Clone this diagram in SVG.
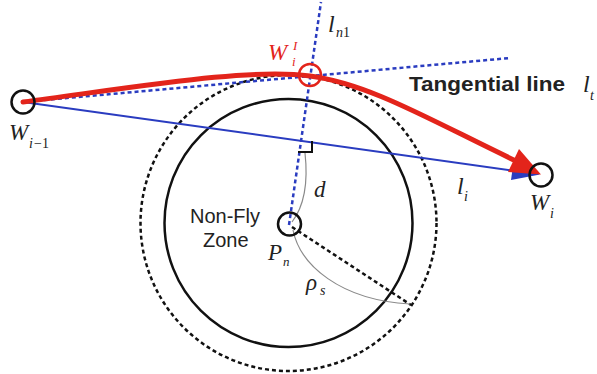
<svg xmlns="http://www.w3.org/2000/svg" width="597" height="374" viewBox="0 0 597 374">
<style>
.bg{fill:#ffffff}
.wp{fill:none;stroke:#111;stroke-width:2.5}
.zone{fill:none;stroke:#111;stroke-width:2.5}
.safe{fill:none;stroke:#111;stroke-width:2.5;stroke-dasharray:4 3}
.bdot{fill:none;stroke:#2a3cc0;stroke-width:2.5;stroke-dasharray:4 3}
.bline{fill:none;stroke:#2a3cc0;stroke-width:2}
.gray{fill:none;stroke:#8a8a8a;stroke-width:1.2}
.kdash{fill:none;stroke:#111;stroke-width:2.5;stroke-dasharray:4 3}
.red{fill:none;stroke:#e3241b;stroke-width:5;stroke-linecap:round}
.math{font-family:"Liberation Serif","Times New Roman",serif;font-style:italic;fill:#222}
.up{font-family:"Liberation Serif","Times New Roman",serif;font-style:normal;fill:#222}
.sans{font-family:"Liberation Sans",Arial,sans-serif;fill:#222}
.rd{fill:#e3241b}
</style>
<rect class="bg" x="0" y="0" width="597" height="374"/>

<g id="zone">
  <circle class="safe" cx="288.5" cy="223" r="148"/>
  <circle class="zone" cx="288.5" cy="223" r="124"/>
  <text class="sans" x="190" y="223" font-size="20">Non-Fly</text>
  <text class="sans" x="203" y="247" font-size="20">Zone</text>
</g>

<g id="connectors">
  <line class="bdot" x1="23" y1="102" x2="510" y2="58"/>
  <line class="bdot" x1="289" y1="225" x2="321" y2="2"/>
  <line class="bline" x1="23" y1="102" x2="516" y2="171"/>
  <polygon points="540,174.5 513,166 511,180" fill="#2a3cc0"/>
  <path class="kdash" d="M292 227 L411 305"/>
  <path class="gray" d="M305 153 C308 180 305 205 292 222"/>
  <path class="gray" d="M293 230 C300 265 340 300 410 304"/>
  <path fill="none" stroke="#111" stroke-width="2" d="M298 152 L312 152 L312 141"/>
  <path class="red" d="M23 102 C150 85 250 68 310 76 S430 120 516 161"/>
  <polygon points="541,174.5 519,149 508,172" fill="#e3241b"/>
</g>

<g id="wprev">
  <circle class="wp" cx="23" cy="102" r="11.5"/>
  <text class="math" x="9" y="140" font-size="23">W</text>
  <text class="math" x="29" y="148" font-size="14">i</text>
  <text class="up" x="34" y="148" font-size="14">−1</text>
</g>

<g id="wi">
  <circle class="wp" cx="541" cy="175" r="11.5"/>
  <text class="math" x="530" y="210" font-size="23">W</text>
  <text class="math" x="550" y="218" font-size="14">i</text>
</g>

<g id="wiI">
  <circle fill="none" stroke="#e3241b" stroke-width="2.5" cx="310" cy="75" r="11"/>
  <text class="math rd" x="268" y="60" font-size="23">W</text>
  <text class="math rd" x="293" y="50" font-size="13">I</text>
  <text class="math rd" x="292" y="66" font-size="13">i</text>
</g>

<g id="pn">
  <circle class="wp" cx="289.5" cy="224" r="11.5"/>
  <text class="math" x="268" y="260" font-size="23">P</text>
  <text class="math" x="283" y="266" font-size="13">n</text>
</g>

<g id="labels">
  <text class="math" x="328" y="32" font-size="24">l</text>
  <text class="math" x="336" y="37" font-size="14">n</text>
  <text class="up" x="343" y="37" font-size="14">1</text>
  <text class="sans" x="409" y="91" font-size="21" font-weight="bold" textLength="156" lengthAdjust="spacingAndGlyphs">Tangential line</text>
  <text class="math" x="583" y="92" font-size="24">l</text>
  <text class="math" x="590" y="100" font-size="14">t</text>
  <text class="math" x="457" y="194" font-size="24">l</text>
  <text class="math" x="464" y="201" font-size="14">i</text>
  <text class="math" x="314" y="197" font-size="23">d</text>
  <text class="math" x="306" y="290" font-size="23">ρ</text>
  <text class="math" x="320" y="295" font-size="14">s</text>
</g>
</svg>
